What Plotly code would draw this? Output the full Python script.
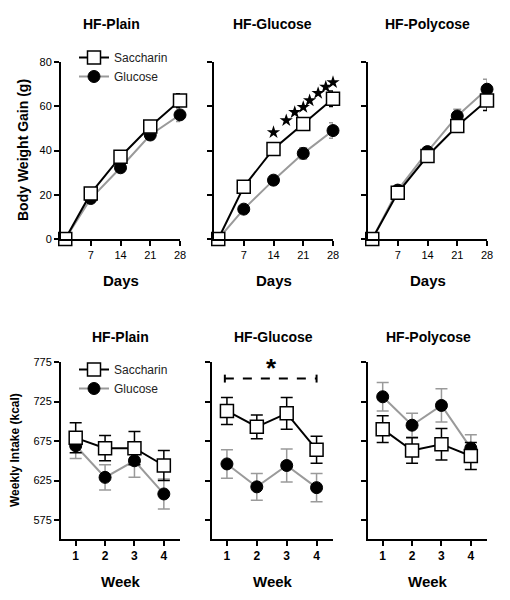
import plotly.graph_objects as go

# ---------------- data ----------------
days = [1, 7, 14, 21, 28]
weeks = [1, 2, 3, 4]
panels = ["HF-Plain", "HF-Glucose", "HF-Polycose"]

# Body weight gain (g)
bw_sacch = {
    "HF-Plain":    [0, 20.6, 37.2, 50.8, 62.6],
    "HF-Glucose":  [0, 23.6, 40.7, 52.0, 63.4],
    "HF-Polycose": [0, 20.9, 37.5, 51.1, 62.6],
}
bw_sacch_err = {
    "HF-Plain":    [0, 1.5, 2.0, 2.0, 3.0],
    "HF-Glucose":  [0, 1.5, 2.0, 2.5, 3.5],
    "HF-Polycose": [0, 1.5, 2.0, 2.5, 4.5],
}
bw_gluc = {
    "HF-Plain":    [0, 18.3, 32.2, 47.0, 56.1],
    "HF-Glucose":  [0, 13.5, 26.6, 38.7, 49.0],
    "HF-Polycose": [0, 22.1, 39.5, 55.6, 67.7],
}
bw_gluc_err = {
    "HF-Plain":    [0, 1.5, 2.0, 2.0, 3.0],
    "HF-Glucose":  [0, 1.5, 2.0, 2.5, 3.5],
    "HF-Polycose": [0, 1.5, 2.0, 3.0, 4.5],
}
star_days = [14, 17, 19, 21, 22.5, 24.5, 26.3, 28]
star_vals = [48.2, 53.6, 57.3, 59.6, 62.6, 65.9, 68.7, 70.8]

# Weekly intake (kcal)
wi_sacch = {
    "HF-Plain":    [679, 666, 666, 644],
    "HF-Glucose":  [713, 693, 710, 664],
    "HF-Polycose": [690, 663, 671, 656],
}
wi_sacch_err = {
    "HF-Plain":    [19, 16, 21, 19],
    "HF-Glucose":  [17, 15, 20, 17],
    "HF-Polycose": [17, 16, 20, 17],
}
wi_gluc = {
    "HF-Plain":    [669, 629, 650, 608],
    "HF-Glucose":  [646, 617, 644, 616],
    "HF-Polycose": [731, 695, 720, 666],
}
wi_gluc_err = {
    "HF-Plain":    [16, 16, 21, 19],
    "HF-Glucose":  [18, 17, 21, 18],
    "HF-Polycose": [18, 15, 21, 17],
}
sig_weeks = [0.93, 4.0]
sig_level = 754
sig_star_week = 2.5
sig_star_level = 767

day_ticks = [7, 14, 21, 28]
bw_ticks = [0, 20, 40, 60, 80]
wi_ticks = [575, 625, 675, 725, 775]

# ---------------- style ----------------
FONT = "Liberation Sans, Arial, sans-serif"
GRAY = "#9a9a9a"
OFF = 8            # default page body margin
W, H = 510 - OFF, 600 - OFF

def fx(px):
    return (px - OFF) / W

def fy(py):
    return 1 - (py - OFF) / H

top_dom_y = [fy(239), fy(62)]
bot_dom_y = [fy(539), fy(362)]
top_dom_x = [[fx(61), fx(180)], [fx(214), fx(333)], [fx(368), fx(487)]]
bot_dom_x = [[fx(61), fx(180)], [fx(212), fx(333)], [fx(368), fx(487)]]
top_title_x = [111, 272, 427]
bot_title_x = [120, 273, 428]

fig = go.Figure()
layout = dict(
    width=W, height=H, margin=dict(l=0, r=0, t=0, b=0, autoexpand=False),
    paper_bgcolor="white", plot_bgcolor="white",
    font=dict(family=FONT, color="black"),
    showlegend=True,
)

def axis_common():
    return dict(showline=True, linecolor="black", linewidth=2, ticks="outside",
                ticklen=5, tickwidth=2, tickcolor="black", showgrid=False,
                zeroline=False, automargin=False,
                tickfont=dict(family=FONT, size=11, color="black"))

def txt(text, x, y, size, xref="paper", yref="paper", angle=0):
    return dict(text=text, x=x, y=y, xref=xref, yref=yref, showarrow=False,
                xanchor="center", yanchor="middle", textangle=angle,
                font=dict(size=size, family=FONT, color="black"))

annotations = []
for i, p in enumerate(panels):
    # ----- top row -----
    xa = f"xaxis{'' if i == 0 else i + 1}"
    ya = f"yaxis{'' if i == 0 else i + 1}"
    xr = f"x{'' if i == 0 else i + 1}"
    yr = f"y{'' if i == 0 else i + 1}"
    ax = axis_common()
    ax.update(domain=top_dom_x[i], anchor=yr, range=[0, 28], tickvals=day_ticks)
    layout[xa] = ax
    ay = axis_common()
    ay.update(domain=top_dom_y, anchor=xr, range=[0, 80], tickvals=bw_ticks,
              showticklabels=(i == 0))
    layout[ya] = ay

    fig.add_trace(go.Scatter(
        x=days, y=bw_gluc[p], xaxis=xr, yaxis=yr, mode="lines+markers",
        name="Glucose", legend="legend", legendrank=2, showlegend=(i == 0),
        line=dict(color=GRAY, width=2),
        marker=dict(symbol="circle", size=12, color="black", line=dict(color="black", width=1)),
        error_y=dict(type="data", array=bw_gluc_err[p], color=GRAY, thickness=1.5, width=4),
        cliponaxis=False))
    fig.add_trace(go.Scatter(
        x=days, y=bw_sacch[p], xaxis=xr, yaxis=yr, mode="lines+markers",
        name="Saccharin", legend="legend", legendrank=1, showlegend=(i == 0),
        line=dict(color="black", width=2),
        marker=dict(symbol="square", size=13, color="white", line=dict(color="black", width=1.5)),
        error_y=dict(type="data", array=bw_sacch_err[p], color="black", thickness=1.5, width=4),
        cliponaxis=False))
    if p == "HF-Glucose":
        fig.add_trace(go.Scatter(
            x=star_days, y=star_vals, xaxis=xr, yaxis=yr, mode="markers",
            marker=dict(symbol="star", size=10, color="black"), showlegend=False,
            cliponaxis=False, hoverinfo="skip"))
    annotations.append(txt(f"<b>{p}</b>", fx(top_title_x[i]), fy(24), 14))
    annotations.append(txt("<b>Days</b>", sum(top_dom_x[i]) / 2, fy(280), 15))

    # ----- bottom row -----
    j = i + 4
    xa = f"xaxis{j}"
    ya = f"yaxis{j}"
    xr = f"x{j}"
    yr = f"y{j}"
    ax = axis_common()
    ax.update(domain=bot_dom_x[i], anchor=yr, range=[0.5, 4.55], tickvals=weeks,
              tickfont=dict(family=FONT, size=12, color="black"),
              ticktext=[f"<b>{w}</b>" for w in weeks])
    layout[xa] = ax
    ay = axis_common()
    ay.update(domain=bot_dom_y, anchor=xr, range=[551, 775], tickvals=wi_ticks,
              showticklabels=(i == 0))
    layout[ya] = ay

    fig.add_trace(go.Scatter(
        x=weeks, y=wi_gluc[p], xaxis=xr, yaxis=yr, mode="lines+markers",
        name="Glucose", legend="legend2", legendrank=2, showlegend=(i == 0),
        line=dict(color=GRAY, width=2),
        marker=dict(symbol="circle", size=12, color="black", line=dict(color="black", width=1)),
        error_y=dict(type="data", array=wi_gluc_err[p], color=GRAY, thickness=1.5, width=6),
        cliponaxis=False))
    fig.add_trace(go.Scatter(
        x=weeks, y=wi_sacch[p], xaxis=xr, yaxis=yr, mode="lines+markers",
        name="Saccharin", legend="legend2", legendrank=1, showlegend=(i == 0),
        line=dict(color="black", width=2),
        marker=dict(symbol="square", size=13, color="white", line=dict(color="black", width=1.5)),
        error_y=dict(type="data", array=wi_sacch_err[p], color="black", thickness=1.5, width=6),
        cliponaxis=False))
    if p == "HF-Glucose":
        fig.add_trace(go.Scatter(
            x=sig_weeks, y=[sig_level, sig_level], xaxis=xr, yaxis=yr, mode="lines",
            line=dict(color="black", width=2, dash="dash"), showlegend=False,
            error_y=dict(type="constant", value=5, color="black", thickness=2, width=0),
            cliponaxis=False, hoverinfo="skip"))
        annotations.append(txt("<b>*</b>", sig_star_week, sig_star_level, 26, xref=xr, yref=yr))
    annotations.append(txt(f"<b>{p}</b>", fx(bot_title_x[i]), fy(337), 14))
    annotations.append(txt("<b>Week</b>", sum(bot_dom_x[i]) / 2, fy(581), 15))

annotations.append(txt("<b>Body Weight Gain (g)</b>", fx(23), fy(150), 14, angle=-90))
annotations.append(txt("<b>Weekly Intake (kcal)</b>", fx(15), fy(450), 12, angle=-90))

layout["annotations"] = annotations
leg_common = dict(xanchor="left", yanchor="top", bgcolor="rgba(0,0,0,0)",
                  font=dict(family=FONT, size=12, color="#222"),
                  tracegroupgap=4, itemsizing="trace")
layout["legend"] = dict(x=fx(74), y=fy(43), **leg_common)
layout["legend2"] = dict(x=fx(74), y=fy(355), **leg_common)
fig.update_layout(**layout)
fig.write_html("out.html")
